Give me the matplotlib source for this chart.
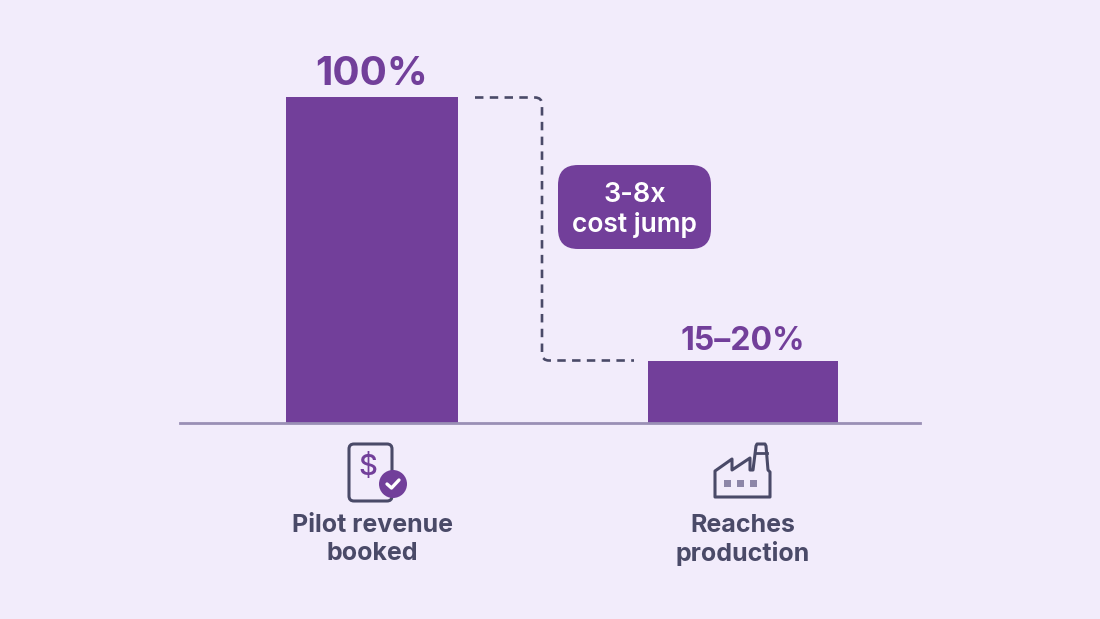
import matplotlib
matplotlib.use("Agg")
import matplotlib.pyplot as plt
from matplotlib.patches import FancyBboxPatch, Circle, Rectangle, PathPatch
from matplotlib.path import Path

plt.rcParams['font.family'] = ['Inter', 'DejaVu Sans']

# data
categories = ["Pilot revenue\nbooked", "Reaches\nproduction"]
values = [100, 19]
value_labels = ["100%", "15–20%"]
callout = "3-8x\ncost jump"

PURPLE = "#723f9a"
SLATE = "#4a4a68"
BG = "#f2ecfb"
AXIS = "#9a8fb5"
WHITE = "#ffffff"

bar_x = [372, 743]
bar_w = [172, 190]

fig = plt.figure(figsize=(11, 6.19), dpi=100, facecolor=BG)

# the axes span the whole figure, y is scaled so 0 and 100 sit on the bar base and top
ax = fig.add_axes([0, 0, 1, 1])
ax.set_facecolor("none")
ax.axis("off")
ax.set_xlim(0, 1100)
ax.set_ylim(-196 / 3.26, 97 / 3.26 + 100)
ax.bar(bar_x, values, width=bar_w, color=PURPLE, zorder=2)
ax.plot([180, 920], [0, 0], color=AXIS, lw=2, zorder=3)

ax.text(bar_x[0], values[0] + 1.2, value_labels[0], ha="center", va="bottom", color=PURPLE,
        fontsize=29, fontweight="bold")
ax.text(bar_x[1], values[1] + 1.2, value_labels[1], ha="center", va="bottom", color=PURPLE,
        fontsize=23, fontweight="bold")

# overlay in pixel coordinates for callout and icons
px = fig.add_axes([0, 0, 1, 1])
px.set_facecolor("none")
px.axis("off")
px.set_xlim(0, 1100)
px.set_ylim(619, 0)

# dashed connector
r = 7
verts = [(475, 97.5), (542 - r, 97.5), (542, 97.5), (542, 97.5 + r), (542, 360.5 - r), (542, 360.5),
         (542 + r, 360.5), (634, 360.5)]
codes = [Path.MOVETO, Path.LINETO, Path.CURVE3, Path.CURVE3, Path.LINETO, Path.CURVE3, Path.CURVE3, Path.LINETO]
px.add_patch(PathPatch(Path(verts, codes), fill=False, ec=SLATE, lw=1.9, ls=(0, (3.2, 2.4))))

# callout box
px.add_patch(FancyBboxPatch((558 + 20, 165 + 20), 153 - 40, 84 - 40,
                            boxstyle="round,pad=20,rounding_size=20", fc=PURPLE, ec="none"))
line1, line2 = callout.split("\n")
px.text(634.5, 194.5, line1, ha="center", va="center", color=WHITE, fontsize=19.5, fontweight="semibold")
px.text(634.5, 225, line2, ha="center", va="center", color=WHITE, fontsize=19, fontweight="semibold")

# category labels
for x, cat in zip(bar_x, categories):
    a, b = cat.split("\n")
    px.text(x, 526, a, ha="center", va="center", color=SLATE, fontsize=18, fontweight="bold")
    px.text(x, 553.5, b, ha="center", va="center", color=SLATE, fontsize=18, fontweight="bold")

# document icon
px.add_patch(FancyBboxPatch((353, 448), 35, 49, boxstyle="round,pad=4,rounding_size=5",
                            fc="none", ec=SLATE, lw=2.2))
px.text(368, 468, "$", ha="center", va="center", color=PURPLE, fontsize=21, fontweight="medium")
px.add_patch(Circle((393, 484), 14, fc=PURPLE, ec=BG, lw=0, zorder=4))
px.plot([387, 391.5, 399], [484, 488, 480], color=WHITE, lw=2.4, zorder=5,
        solid_capstyle="round", solid_joinstyle="round")

# factory icon
outline = [(715, 497), (715, 471), (732, 459), (732, 470), (750, 458), (750, 470), (753, 470),
           (756, 446), (757, 444), (765, 444), (766, 446), (768, 470), (770, 472), (770, 497), (715, 497)]
px.add_patch(PathPatch(Path(outline, closed=True), fc="none", ec=SLATE, lw=2.2, joinstyle="round"))
px.plot([755.5, 766.5], [452.5, 452.5], color=SLATE, lw=2)
for sx in (724, 737, 750):
    px.add_patch(Rectangle((sx, 479.5), 7, 7.5, fc="#8d86a8", ec="none"))

fig.savefig("out.png", dpi=100, facecolor=BG)
